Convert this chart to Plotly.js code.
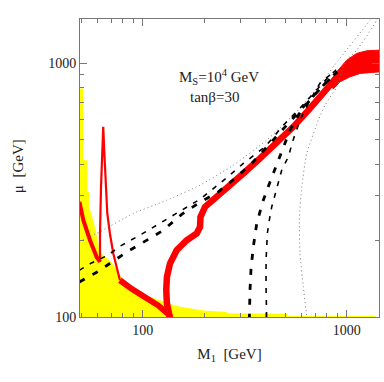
<!DOCTYPE html>
<html><head><meta charset="utf-8">
<script src="https://cdn.plot.ly/plotly-3.0.1.min.js"></script>
<style>html,body{margin:0;padding:0;background:#fff;}#plot{width:384px;height:382px;}</style>
</head><body><div id="plot"></div>
<script>
// Yellow excluded region (boundary, closed along the bottom)
const yellowX = [49, 51.2, 51.2, 53.5, 53.5, 54.7, 54.7, 57.3, 60, 61.5, 66, 70.2, 78.5, 88, 100, 110, 126, 143.5, 160.6, 200, 258, 260, 508, 512, 1380, 1380, 49];
const yellowY = [796, 796, 415, 415, 311, 311, 272, 240, 205, 180, 172, 165, 144, 127, 123, 120, 115, 111, 109, 106, 104.7, 103.5, 103, 100.8, 100.8, 95, 95];

// Red: left branch down to the V
const redLeftX = [49, 51.2, 55.2, 59.5, 61.8];
const redLeftY = [284.4, 240.8, 200.8, 172.5, 164.8];
// Red: narrow spike
const spikeX = [61.8, 61.8, 62.5, 63.2, 64.1, 64.8, 66.1, 67.1, 69.1, 71.8, 74.6, 77.4];
const spikeY = [164.8, 213.4, 325.8, 454.9, 562, 454.9, 325.8, 256, 213.4, 177.9, 157, 139.6];
// Red: lower band to the bottom
const bandX = [77.4, 78.6, 87.9, 102.3, 118.9, 133, 137.6];
const bandY = [139.6, 138.3, 129.4, 119.9, 111.2, 103.1, 99.5];
// Red: main curve
const mainX = [136.1, 131.5, 130.5, 131.5, 136.1, 146.8, 164.3, 184, 191, 192, 202.1, 230.6, 267.9, 311.3, 375.8, 453.9, 547.2, 660.8, 798, 886.3];
const mainY = [99, 113, 127.5, 143.8, 162.4, 183.4, 200.8, 213.4, 226.5, 248.1, 271.7, 297.6, 325.8, 368.1, 421.8, 483.4, 562, 664.3, 784.6, 875];
// Red: widening end band (polygon)
const endX = [818.9, 893.3, 1000, 1119, 1253, 1460, 1460, 1162, 1038, 927, 856.6];
const endY = [836, 926.6, 1030, 1095, 1121, 1128, 926.6, 913, 885, 846, 791.5];

// Thick dashed contour
const dashAX = [49, 59.5, 72.3, 85.7, 107.4, 125.1, 155.8, 191, 234.8, 283.5, 342.2, 405.4, 489, 590.4, 707.3, 828.3, 896.6, 798, 686, 590.4, 527, 487.3, 462, 420.7, 387.4, 362.2, 348.5, 339.6, 335.7, 333, 333];
const dashAY = [137.4, 150.1, 166.7, 182.5, 203.2, 218.9, 254.3, 283.6, 311.4, 351.8, 403.1, 468.8, 554, 654, 763.6, 875, 924, 844, 743, 642, 545.6, 463, 415.4, 341, 284.4, 233.7, 188.9, 155.2, 127.5, 100, 95];
// Thin dashed contour
const dashBX = [49, 56.2, 67.6, 77.4, 98.9, 126.2, 164.3, 191, 243.9, 311.3, 397.7, 498.4, 590.4, 699.4, 828.3, 886.3, 739.8, 660.8, 590.4, 545.6, 517.2, 480.2, 462, 445.1, 428.9, 417.4, 408.2, 405.4, 402.3, 402.3, 405.4, 405.4];
const dashBY = [152.9, 163.4, 175.2, 190.1, 212.1, 238.7, 271.7, 291.3, 341, 403.1, 468.8, 579.8, 666, 777.6, 899, 941, 836, 716.4, 597.2, 498.2, 427.9, 379.3, 336, 306.9, 271.7, 240.8, 213.4, 188.9, 167.4, 131.3, 100, 95];
// Dotted contour
const dotX = [49, 59.5, 89.9, 131.1, 191, 278, 405.4, 590.4, 739.8, 927, 1301, 1456, 1403, 1119.4, 980.9, 893.3, 782.9, 725.7, 636.7, 601.7, 585.6, 590.4, 612.7, 636.7, 640];
const dotY = [199, 213.4, 255.9, 288.6, 331, 396.9, 498.2, 666, 828.6, 1049, 1482, 1700, 1482, 1128, 1011.9, 808.6, 684.4, 597, 441.4, 325.8, 240.8, 177.9, 131.3, 100, 95];

const xTickVals = [100, 1000];
const xMinorVals = [50, 60, 70, 80, 90, 200, 300, 400, 500, 600, 700, 800, 900];
const yTickVals = [100, 1000];
const yMinorVals = [200, 300, 400, 500, 600, 700, 800, 900];

const RED = '#ff0000';
const SERIF = 'Liberation Serif, Times New Roman, serif';
const traces = [
  {x: yellowX, y: yellowY, mode: 'lines', fill: 'toself', fillcolor: '#ffff00', line: {width: 0, color: '#ffff00'}, hoverinfo: 'skip'},
  {x: endX, y: endY, mode: 'lines', fill: 'toself', fillcolor: RED, line: {width: 1, color: RED}},
  {x: redLeftX, y: redLeftY, mode: 'lines', line: {color: RED, width: 4}},
  {x: spikeX, y: spikeY, mode: 'lines', line: {color: RED, width: 2.2}},
  {x: bandX, y: bandY, mode: 'lines', line: {color: RED, width: 6}},
  {x: mainX, y: mainY, mode: 'lines', line: {color: RED, width: 6.5}},
  {x: dotX, y: dotY, mode: 'lines', line: {color: '#777', width: 1, dash: '1px,3px', shape: 'spline', smoothing: 0.5}},
  {x: dashAX, y: dashAY, mode: 'lines', line: {color: '#000', width: 2.8, dash: '6px,9px'}},
  {x: dashBX, y: dashBY, mode: 'lines', line: {color: '#000', width: 1.6, dash: '5px,7px'}}
];

const axisCommon = {
  type: 'log', showgrid: false, zeroline: false,
  showline: true, linecolor: '#777', linewidth: 1, mirror: 'ticks',
  ticks: 'inside', ticklen: 7, tickcolor: '#777', tickwidth: 1,
  tickfont: {family: SERIF, size: 14, color: '#222'},
  tickmode: 'array'
};

const layout = {
  width: 384, height: 382,
  margin: {l: 80, r: 5, t: 19, b: 65},
  paper_bgcolor: '#fff', plot_bgcolor: '#fff',
  showlegend: false,
  xaxis: Object.assign({}, axisCommon, {
    range: [1.693, 3.158], tickvals: xTickVals, ticktext: xTickVals.map(String),
    minor: {tickmode: 'array', tickvals: xMinorVals, ticks: 'inside', ticklen: 4, tickcolor: '#777'},
    title: {text: 'M<sub>1</sub>&nbsp;&nbsp;[GeV]', font: {family: SERIF, size: 15, color: '#222'}, standoff: 11}
  }),
  yaxis: Object.assign({}, axisCommon, {
    range: [2, 3.175], tickvals: yTickVals, ticktext: yTickVals.map(String),
    minor: {tickmode: 'array', tickvals: yMinorVals, ticks: 'inside', ticklen: 4, tickcolor: '#777'}
  }),
  annotations: [
    {xref: 'paper', yref: 'paper', x: -0.242, y: 0.505, text: 'μ&nbsp;&nbsp;[GeV]', textangle: -90, showarrow: false,
     font: {family: SERIF, size: 15, color: '#222'}},
    {xref: 'paper', yref: 'paper', x: 0.324, xanchor: 'left', y: 0.845, text: 'M<sub>S</sub>=10<sup>4</sup> GeV', showarrow: false,
     font: {family: SERIF, size: 15, color: '#222'}},
    {xref: 'paper', yref: 'paper', x: 0.361, xanchor: 'left', y: 0.772, text: 'tanβ=30', showarrow: false,
     font: {family: SERIF, size: 15, color: '#222'}}
  ]
};

Plotly.newPlot('plot', traces, layout, {staticPlot: true, displayModeBar: false});
</script>
</body></html>
